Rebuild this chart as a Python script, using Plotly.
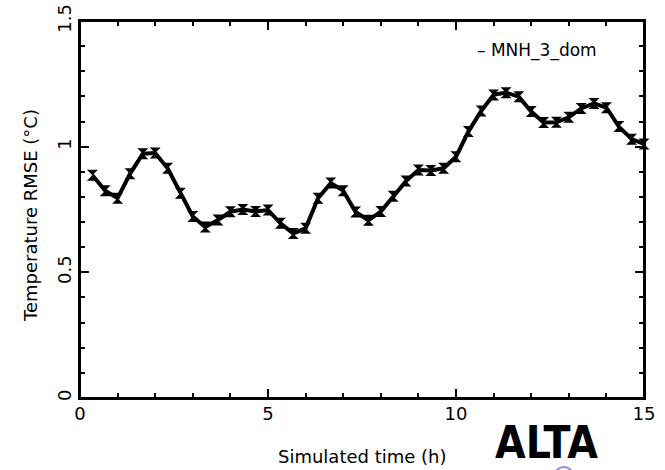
import plotly.graph_objects as go

# simulated time (h), one value every 20 minutes
time_h = [0.33, 0.67, 1.0, 1.33, 1.67, 2.0, 2.33, 2.67, 3.0, 3.33,
          3.67, 4.0, 4.33, 4.67, 5.0, 5.33, 5.67, 6.0, 6.33, 6.67,
          7.0, 7.33, 7.67, 8.0, 8.33, 8.67, 9.0, 9.33, 9.67, 10.0,
          10.33, 10.67, 11.0, 11.33, 11.67, 12.0, 12.33, 12.67, 13.0, 13.33,
          13.67, 14.0, 14.33, 14.67, 15.0]

# temperature RMSE (degC), run MNH_3_dom
rmse = [0.886, 0.825, 0.795, 0.892, 0.972, 0.975, 0.914, 0.815, 0.722, 0.680,
        0.708, 0.741, 0.750, 0.742, 0.748, 0.695, 0.655, 0.675, 0.795, 0.855,
        0.825, 0.740, 0.707, 0.742, 0.803, 0.863, 0.907, 0.905, 0.914, 0.960,
        1.060, 1.142, 1.206, 1.215, 1.199, 1.140, 1.096, 1.097, 1.117, 1.152,
        1.172, 1.155, 1.080, 1.030, 1.011]

series_name = "MNH_3_dom"
x_ticks = [0, 5, 10, 15]
y_ticks = [0, 0.5, 1, 1.5]
y_tick_text = ["0", "0.5", "1", "1.5"]

FONT = "DejaVu Sans, Liberation Sans, sans-serif"

fig = go.Figure()
fig.add_trace(
    go.Scatter(
        x=time_h,
        y=rmse,
        mode="lines+markers",
        line=dict(color="black", width=4),
        marker=dict(symbol="hourglass", size=11, color="black"),
        name=series_name,
        showlegend=False,
        cliponaxis=False,
    )
)

axis_common = dict(
    showline=True,
    linecolor="black",
    linewidth=2,
    mirror="ticks",
    ticks="inside",
    tickcolor="black",
    tickwidth=2,
    ticklen=9,
    showgrid=False,
    zeroline=False,
    automargin=False,
    ticklabeloverflow="allow",
    tickfont=dict(family=FONT, size=18, color="black"),
)

fig.update_xaxes(
    range=[0, 15],
    tickvals=x_ticks,
    ticklabelstandoff=-2,
    minor=dict(dtick=1, ticks="inside", ticklen=5, tickwidth=2, tickcolor="black", showgrid=False),
    **axis_common,
)
fig.update_yaxes(
    range=[0, 1.5],
    tickvals=y_ticks,
    ticktext=y_tick_text,
    tickangle=-90,
    minor=dict(dtick=0.1, ticks="inside", ticklen=5, tickwidth=2, tickcolor="black", showgrid=False),
    **axis_common,
)

# frame around the plot box
fig.add_shape(
    type="rect", xref="paper", yref="paper",
    x0=0, x1=1, y0=0, y1=1,
    line=dict(color="black", width=2), layer="above",
)

# axis titles
fig.add_annotation(
    x=0.5, y=-0.154, xref="paper", yref="paper",
    text="Simulated time (h)", showarrow=False,
    xanchor="center", yanchor="middle",
    font=dict(family=FONT, size=18, color="black"),
)
fig.add_annotation(
    x=-0.089, y=0.485, xref="paper", yref="paper",
    text="Temperature RMSE (°C)", showarrow=False, textangle=-90,
    xanchor="center", yanchor="middle",
    font=dict(family=FONT, size=18, color="black"),
)

# legend entry drawn as text, as in the original
fig.add_annotation(
    x=0.700, y=0.923, xref="paper", yref="paper",
    text="– " + series_name, showarrow=False,
    xanchor="left", yanchor="middle",
    font=dict(family=FONT, size=17, color="black"),
)

# logo at the bottom right
fig.add_annotation(
    x=0.828, y=-0.19, xref="paper", yref="paper",
    text="<b>ALTA</b>", showarrow=False,
    xanchor="center", yanchor="bottom",
    font=dict(family="Liberation Sans Narrow, DejaVu Sans Condensed, sans-serif", size=44, color="black"),
)
fig.add_shape(
    type="circle", xref="paper", yref="paper",
    x0=0.842, x1=0.874, y0=-0.23, y1=-0.183,
    line=dict(color="#8c8cf0", width=2),
)

fig.update_layout(
    width=665,
    height=470,
    margin=dict(l=80, r=21, t=21, b=72),
    plot_bgcolor="white",
    paper_bgcolor="white",
)

# drop the default page margin so the figure sits at the window corner
fig.write_html(
    "out.html",
    config={"displayModeBar": False},
    post_script="document.body.style.margin = '0px';",
)
